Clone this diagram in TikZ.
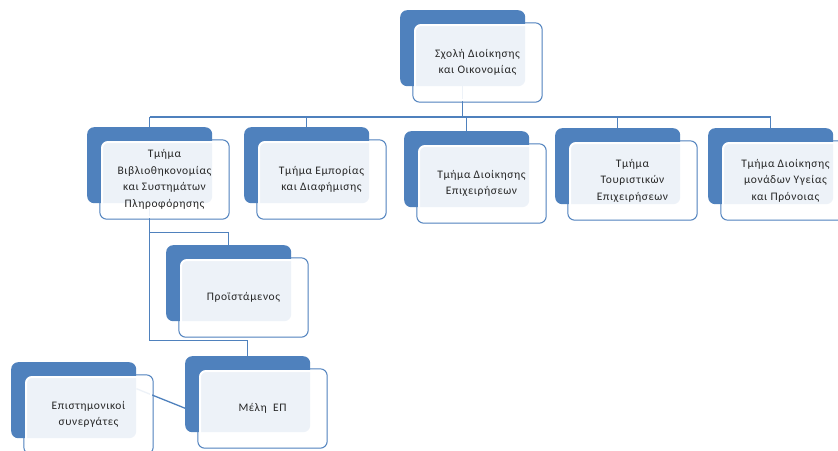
\documentclass[tikz,border=0pt]{standalone}
\usepackage{fontspec}
\setmainfont{Carlito}[LetterSpace=5]
\usetikzlibrary{backgrounds}
\definecolor{blueA}{HTML}{4F81BD}
\definecolor{txt}{HTML}{262626}
\tikzset{
  backbox/.style={rectangle, rounded corners=7pt, fill=blueA, minimum width=125pt, minimum height=76pt, inner sep=0pt, anchor=north west},
  frontbox/.style={rectangle, rounded corners=6pt, fill=white, fill opacity=0.9, text opacity=1, draw=white, line width=2pt, minimum width=125pt, minimum height=75pt, inner sep=2pt, align=center, anchor=north west, text=txt, font=\fontsize{11.5}{16.5}\selectfont},
  frameline/.style={draw=blueA, line width=1pt, rounded corners=7pt},
  conn/.style={draw=blueA, line width=1.3pt},
}
\newcommand\orgbox[4]{%
  \node[backbox] (#1b) at (#2,#3) {};
  \node[frontbox] (#1) at (#2+14,#3+14) {#4};
  \draw[frameline] ([shift={(-1.2pt,1.2pt)}]#1.north west) rectangle ([shift={(1.2pt,-1.2pt)}]#1.south east);
}
\begin{document}
\begin{tikzpicture}[x=1pt,y=-1pt]
\useasboundingbox (0,0) rectangle (838,450);
\orgbox{top}{400}{10}{Σχολή Διοίκησης\\και Οικονομίας}
\orgbox{na}{87}{127}{Τμήμα\\Βιβλιοθηκονομίας\\και Συστημάτων\\Πληροφόρησης}
\orgbox{nb}{244}{127}{Τμήμα Εμπορίας\\και Διαφήμισης}
\orgbox{nc}{404}{131}{Τμήμα Διοίκησης\\Επιχειρήσεων}
\orgbox{nd}{555}{128}{Τμήμα\\Τουριστικών\\Επιχειρήσεων}
\orgbox{ne}{708}{128}{Τμήμα Διοίκησης\\μονάδων Υγείας\\και Πρόνοιας}
\orgbox{pr}{166}{245}{Προϊστάμενος}
\orgbox{sc}{11}{362}{Επιστημονικοί\\συνεργάτες}
\orgbox{me}{185}{356}{Μέλη~ ΕΠ}
\begin{scope}[on background layer]
  \fill[white] (0,0) rectangle (838,450);
  \coordinate (bus) at (462,117);
  \draw[conn] (topb.south) -- (topb.south |- bus);
  \draw[conn] (nab.north |- bus) -- (neb.north |- bus);
  \foreach \n in {nab,nbb,ncb,ndb,neb}
    \draw[conn] (\n.north |- bus) -- (\n.north);
  \draw[conn] (nab.south) -- ++(0,29) -| (prb.north);
  \draw[conn] (nab.south) -- ++(0,137) -| (meb.north);
  \draw[conn] ([yshift=11.5pt]scb.east) -- ([yshift=-14pt]meb.west);
\end{scope}
\end{tikzpicture}
\end{document}
